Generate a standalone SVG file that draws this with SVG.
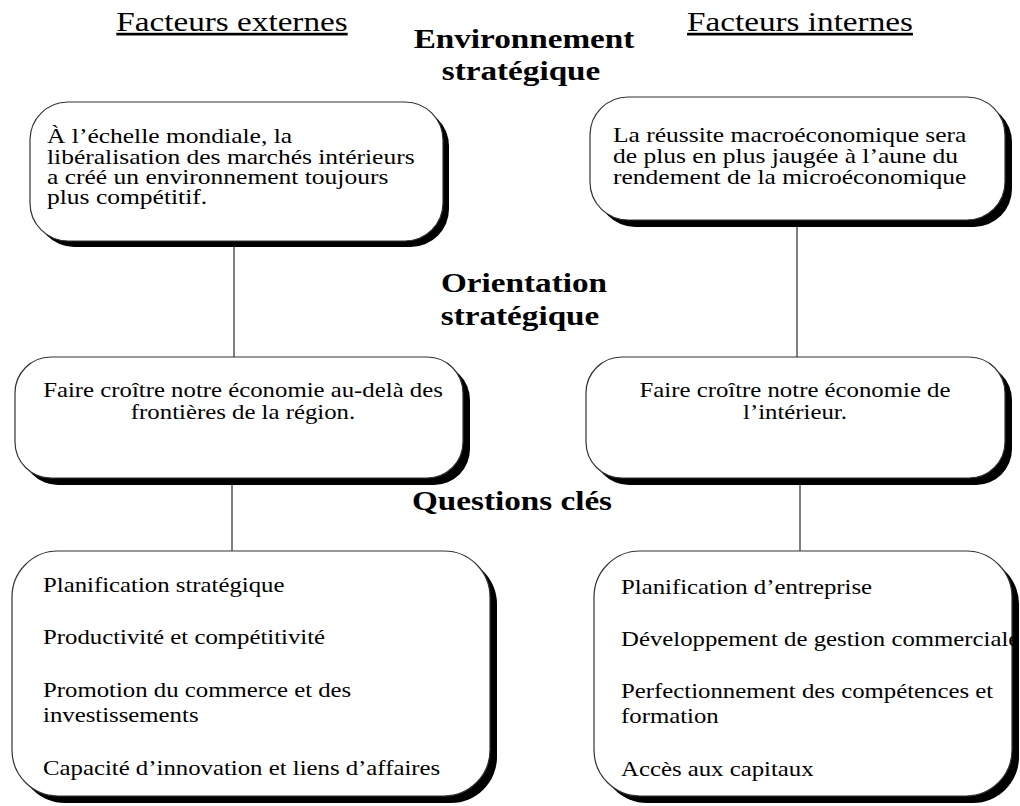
<svg xmlns="http://www.w3.org/2000/svg" width="1020" height="806" viewBox="0 0 1020 806">
<defs>
<style>
.t{font-family:"Liberation Serif","Times New Roman",serif;fill:#000}
.b{font-size:22px}
.h{font-size:27px;text-decoration:underline}
.hb{font-size:27px;font-weight:bold}
.box{fill:#fff;stroke:#333;stroke-width:1.2}
.sh{fill:#000}
.cn{stroke:#000;stroke-width:1;fill:none}
</style>
</defs>
<rect width="1020" height="806" fill="#fff"/>
<g id="titles">
<text class="t h" text-anchor="middle" transform="translate(232 31) scale(1.23 1)">Facteurs externes</text>
<text class="t h" text-anchor="middle" transform="translate(800 31) scale(1.23 1)">Facteurs internes</text>
<text class="t hb" text-anchor="middle" transform="translate(524 48) scale(1.23 1)">Environnement</text>
<text class="t hb" text-anchor="middle" transform="translate(521 80) scale(1.23 1)">stratégique</text>
<text class="t hb" text-anchor="middle" transform="translate(524 292) scale(1.23 1)">Orientation</text>
<text class="t hb" text-anchor="middle" transform="translate(520 325) scale(1.23 1)">stratégique</text>
<text class="t hb" text-anchor="middle" transform="translate(512 510) scale(1.23 1)">Questions clés</text>
</g>
<g id="connectors">
<line class="cn" x1="234" y1="247" x2="234" y2="357"/>
<line class="cn" x1="797" y1="227" x2="797" y2="357"/>
<line class="cn" x1="232" y1="485" x2="232" y2="551"/>
<line class="cn" x1="800" y1="485" x2="800" y2="551"/>
</g>
<g id="env-externe">
<rect class="sh" x="36" y="108" width="413" height="139" rx="38"/>
<rect class="box" x="30" y="102" width="413" height="139" rx="38"/>
<text class="t b" transform="translate(47 143) scale(1.16 1)">À l’échelle mondiale, la</text>
<text class="t b" transform="translate(47 164) scale(1.16 1)">libéralisation des marchés intérieurs</text>
<text class="t b" transform="translate(47 184) scale(1.16 1)">a créé un environnement toujours</text>
<text class="t b" transform="translate(47 204) scale(1.16 1)">plus compétitif.</text>
</g>
<g id="env-interne">
<rect class="sh" x="597" y="104" width="415" height="123" rx="38"/>
<rect class="box" x="590" y="97" width="415" height="123" rx="38"/>
<text class="t b" transform="translate(613 142) scale(1.16 1)">La réussite macroéconomique sera</text>
<text class="t b" transform="translate(613 163) scale(1.16 1)">de plus en plus jaugée à l’aune du</text>
<text class="t b" transform="translate(613 184) scale(1.16 1)">rendement de la microéconomique</text>
</g>
<g id="orient-externe">
<rect class="sh" x="22" y="364" width="448" height="121" rx="36"/>
<rect class="box" x="15" y="357" width="448" height="121" rx="36"/>
<text class="t b" text-anchor="middle" transform="translate(243 397) scale(1.127 1)">Faire croître notre économie au-delà des</text>
<text class="t b" text-anchor="middle" transform="translate(243 419) scale(1.127 1)">frontières de la région.</text>
</g>
<g id="orient-interne">
<rect class="sh" x="593" y="364" width="419" height="121" rx="36"/>
<rect class="box" x="586" y="357" width="419" height="121" rx="36"/>
<text class="t b" text-anchor="middle" transform="translate(795 397) scale(1.127 1)">Faire croître notre économie de</text>
<text class="t b" text-anchor="middle" transform="translate(795 419) scale(1.127 1)">l’intérieur.</text>
</g>
<g id="questions-externe">
<rect class="sh" x="19" y="558" width="478" height="245" rx="46"/>
<rect class="box" x="12" y="551" width="478" height="245" rx="46"/>
<text class="t b" transform="translate(43 592) scale(1.127 1)">Planification stratégique</text>
<text class="t b" transform="translate(43 644) scale(1.127 1)">Productivité et compétitivité</text>
<text class="t b" transform="translate(43 697) scale(1.127 1)">Promotion du commerce et des</text>
<text class="t b" transform="translate(43 722) scale(1.127 1)">investissements</text>
<text class="t b" transform="translate(43 775) scale(1.127 1)">Capacité d’innovation et liens d’affaires</text>
</g>
<g id="questions-interne">
<rect class="sh" x="601" y="558" width="418" height="245" rx="46"/>
<rect class="box" x="594" y="551" width="418" height="245" rx="46"/>
<text class="t b" transform="translate(621 594) scale(1.127 1)">Planification d’entreprise</text>
<text class="t b" transform="translate(621 646) scale(1.127 1)">Développement de gestion commerciale</text>
<text class="t b" transform="translate(621 698) scale(1.127 1)">Perfectionnement des compétences et</text>
<text class="t b" transform="translate(621 723) scale(1.127 1)">formation</text>
<text class="t b" transform="translate(621 776) scale(1.127 1)">Accès aux capitaux</text>
</g>
</svg>
